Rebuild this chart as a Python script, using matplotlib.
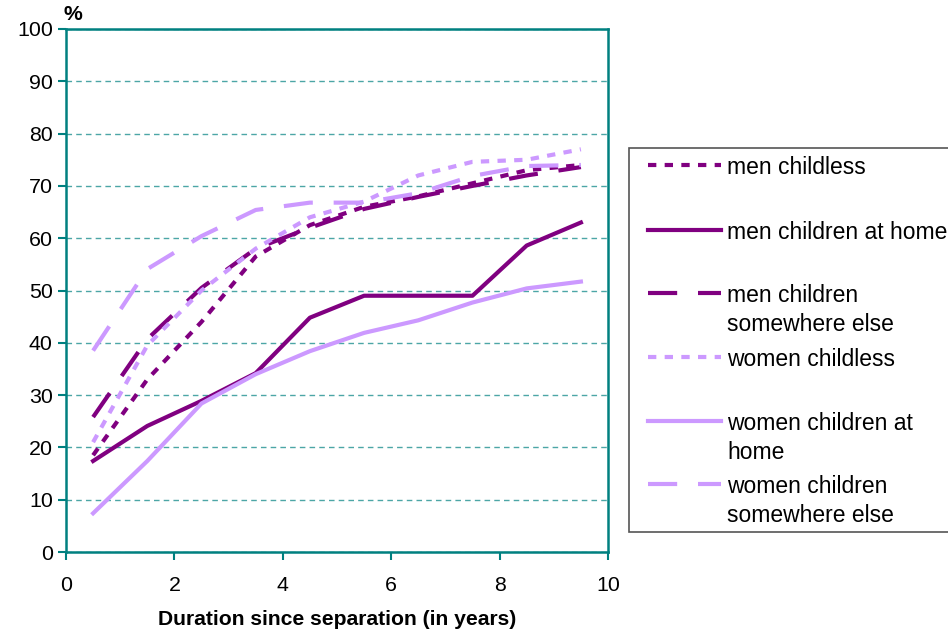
import matplotlib.pyplot as plt
from matplotlib.lines import Line2D
from matplotlib.patches import Rectangle

plt.rcParams['font.family'] = ['Liberation Sans', 'DejaVu Sans']

years = [0.5, 1.5, 2.5, 3.5, 4.5, 5.5, 6.5, 7.5, 8.5, 9.5]

men_childless = [18.5, 33, 44, 56.5, 62.5, 66, 68, 70.5, 73, 74]
men_home = [17.4, 24.1, 28.9, 34.2, 44.8, 49, 49, 49, 58.6, 63]
men_else = [25.8, 40.7, 50.5, 58, 62, 65.6, 67.9, 70, 72, 73.6]
women_childless = [21, 39.5, 50, 58, 64, 67, 72, 74.6, 75, 77]
women_home = [7.4, 17.4, 28.4, 34, 38.4, 41.9, 44.3, 47.7, 50.4, 51.7]
women_else = [38.5, 54.1, 60.4, 65.4, 66.8, 66.8, 68.6, 71.9, 73.8, 74]

labels = ["men childless", "men children at home", "men children\nsomewhere else",
          "women childless", "women children at\nhome", "women children\nsomewhere else"]

dark = "#800080"
light = "#CC99FF"
teal = "#008080"

series = [men_childless, men_home, men_else, women_childless, women_home, women_else]
colors = [dark, dark, dark, light, light, light]
styles = [(0, (2, 2)), "-", (0, (7, 5)), (0, (2, 2)), "-", (0, (7, 5))]

fig = plt.figure(figsize=(9.48, 6.3), dpi=100)
ax = fig.add_axes([66 / 948, 1 - 552 / 630, 542 / 948, 523 / 630])

for vals, c, ls in zip(series, colors, styles):
    ax.plot(years, vals, color=c, linestyle=ls, linewidth=3)

ax.set_xlim(0, 10)
ax.set_ylim(0, 100)
ax.set_xticks(range(0, 11, 2))
ax.set_yticks(range(0, 101, 10))
ax.tick_params(labelsize=15.4, color=teal, length=6, width=1.5)
ax.tick_params(axis='x', pad=11)
ax.yaxis.grid(True, color=teal, linestyle=(0, (4, 3)), linewidth=1, alpha=0.7)
ax.set_axisbelow(True)
for s in ax.spines.values():
    s.set_color(teal)
    s.set_linewidth(1.8)

ax.set_xlabel("Duration since separation (in years)", fontsize=15.2,
              fontweight='bold', labelpad=11)
fig.text(64 / 948, 1 - 14 / 630, "%", fontsize=15.2, fontweight='bold', va='center')

# legend box
fig.patches.append(Rectangle((629 / 948, 1 - 532 / 630), 330 / 948, 384 / 630,
                             transform=fig.transFigure, facecolor='white',
                             edgecolor='#555555', linewidth=1.2))
rows = [165, 230, 293, 357, 421, 484]
for y, lab, c, ls in zip(rows, labels, colors, styles):
    fy = 1 - y / 630
    fig.lines.append(Line2D([648 / 948, 721 / 948], [fy, fy], transform=fig.transFigure,
                            color=c, linestyle=ls, linewidth=3))
    for i, line in enumerate(lab.split("\n")):
        fig.text(727 / 948, 1 - (y + 29 * i) / 630, line, fontsize=16.5,
                 va='center_baseline', ha='left')

fig.savefig("out.png", dpi=100)
